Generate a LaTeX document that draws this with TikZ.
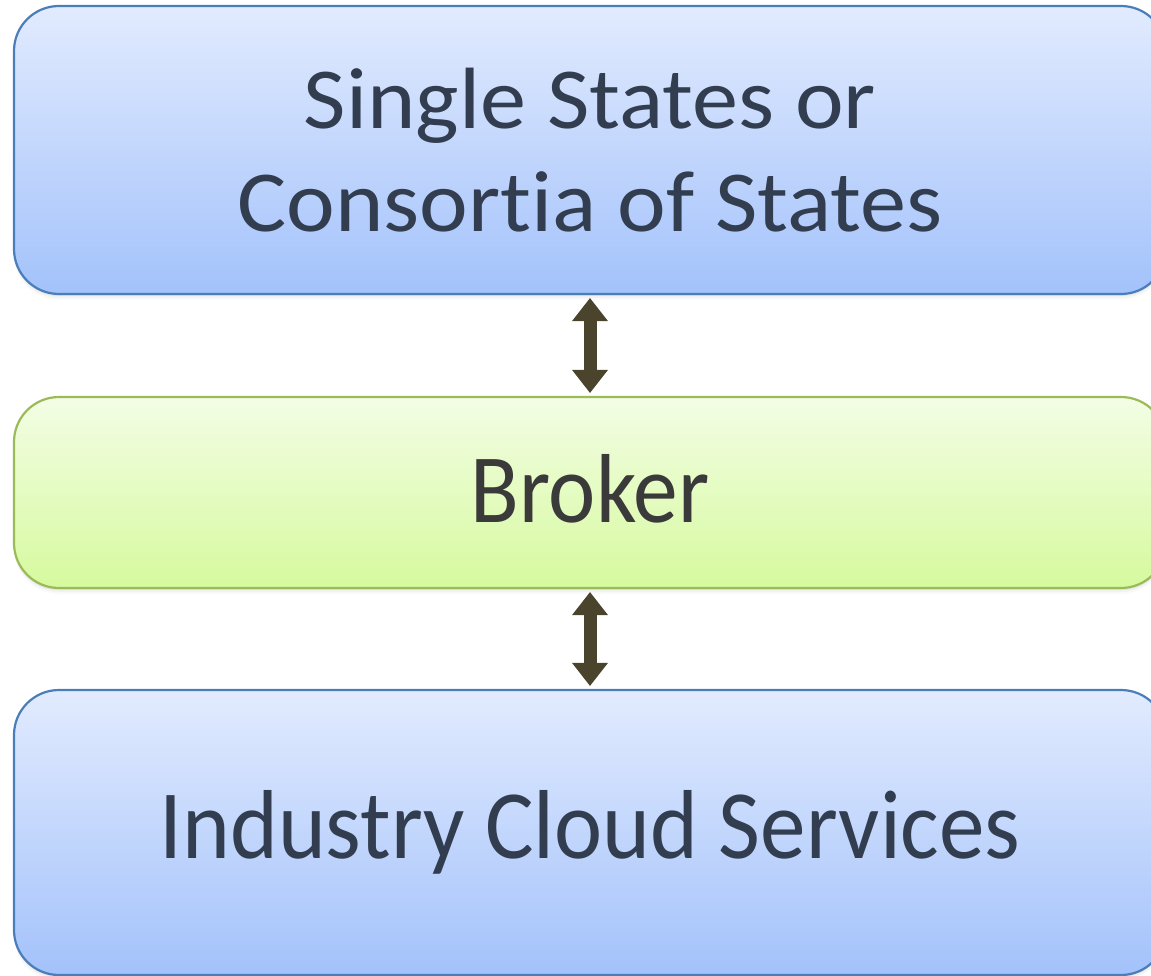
\documentclass[tikz,border=0pt]{standalone}
\usepackage{fontspec}
\usetikzlibrary{arrows.meta,shadows}
\newfontfamily\topfont[FakeStretch=1.06,Ligatures={NoCommon}]{Carlito}
\newfontfamily\bluefont[FakeStretch=0.93,Ligatures={NoCommon}]{Carlito}
\newfontfamily\brokerfont[FakeStretch=0.913]{Carlito}
\definecolor{bluetop}{RGB}{226,235,254}
\definecolor{bluebot}{RGB}{163,194,251}
\definecolor{blueedge}{RGB}{74,126,187}
\definecolor{greentop}{RGB}{243,253,229}
\definecolor{greenbot}{RGB}{214,250,158}
\definecolor{greenedge}{RGB}{155,187,89}
\definecolor{slatetext}{RGB}{50,62,80}
\definecolor{graytext}{RGB}{58,58,58}
\definecolor{arrowc}{RGB}{74,68,44}
\tikzset{
  softshadow/.style={
    drop shadow={shadow xshift=0pt, shadow yshift=-2pt, opacity=0.12},
    drop shadow={shadow xshift=0pt, shadow yshift=-4pt, opacity=0.07},
    drop shadow={shadow xshift=0pt, shadow yshift=-6pt, opacity=0.04}},
  box/.style={rounded corners=45pt, line width=2.2pt, minimum width=1152pt,
    align=center, inner sep=0pt, softshadow},
  bluebox/.style={box, draw=blueedge, top color=bluetop, bottom color=bluebot,
    text=slatetext},
  greenbox/.style={box, draw=greenedge, top color=greentop, bottom color=greenbot,
    text=graytext},
  link/.style={draw=arrowc, line width=13pt,
    {Triangle[width=36pt,length=23pt,line width=0pt]}-{Triangle[width=36pt,length=23pt,line width=0pt]},
    shorten <=3pt, shorten >=3pt}
}
\begin{document}
\begin{tikzpicture}[x=1pt,y=-1pt]
\useasboundingbox (0,0) rectangle (1151,976);
\node[bluebox, minimum height=288pt, font=\topfont\fontsize{87}{103}\selectfont]
  (states) at (590,150) {Single States or\\Consortia of States};
\node[greenbox, minimum height=191pt, text depth=8pt,
  font=\brokerfont\fontsize{98}{110}\selectfont]
  (broker) at (590,492.5) {Broker};
\node[bluebox, minimum height=285pt, font=\bluefont\fontsize{98}{110}\selectfont]
  (cloud) at (590,832.5) {Industry Cloud Services};
\draw[link] (states.south) -- (broker.north);
\draw[link] (broker.south) -- (cloud.north);
\end{tikzpicture}
\end{document}
